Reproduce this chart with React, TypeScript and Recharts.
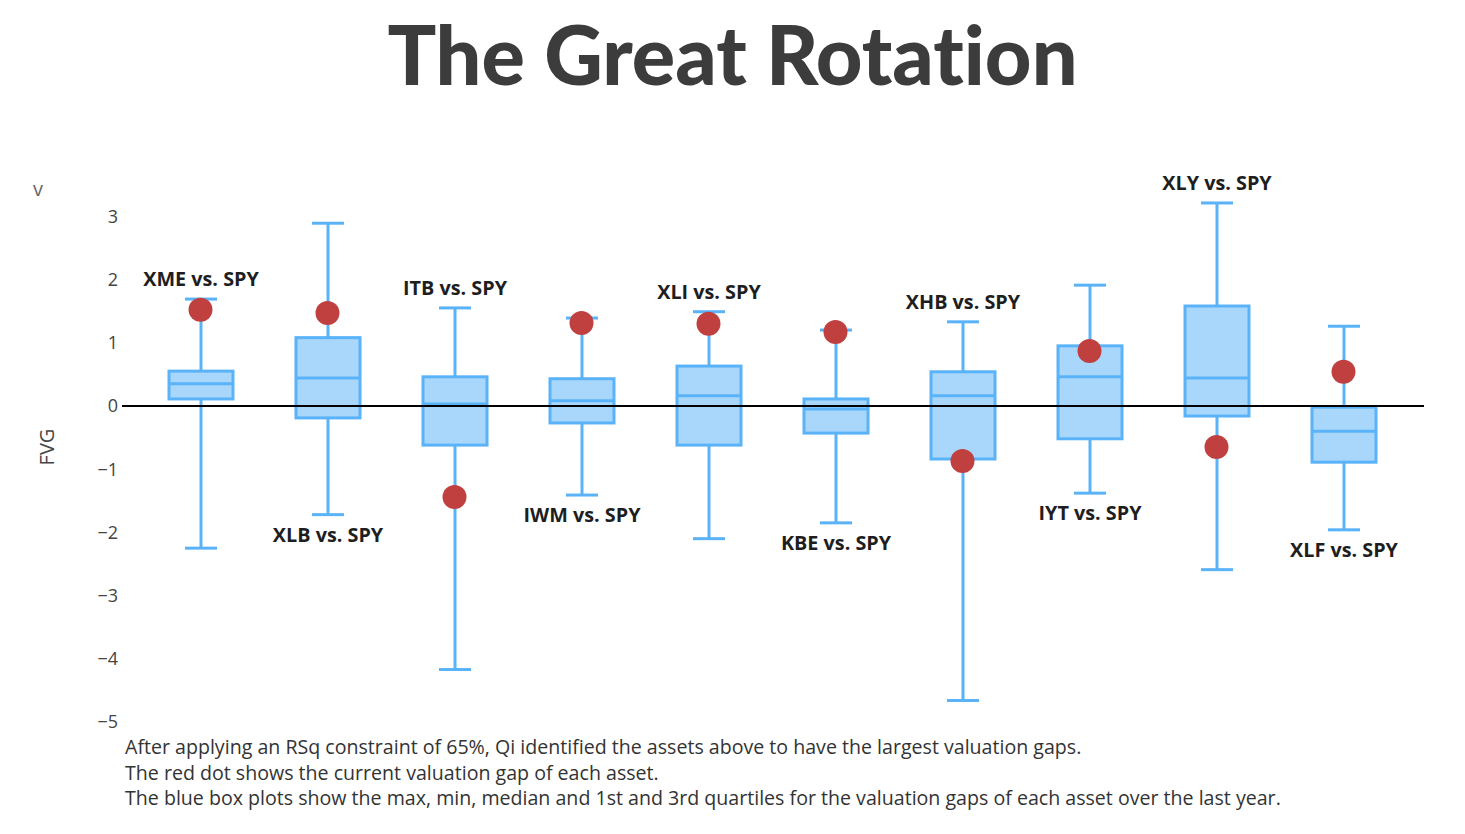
import React from "react";
import {
  ComposedChart,
  Bar,
  Scatter,
  XAxis,
  YAxis,
  ReferenceLine,
} from "recharts";

const categories: string[] = [
  "XME vs. SPY",
  "XLB vs. SPY",
  "ITB vs. SPY",
  "IWM vs. SPY",
  "XLI vs. SPY",
  "KBE vs. SPY",
  "XHB vs. SPY",
  "IYT vs. SPY",
  "XLY vs. SPY",
  "XLF vs. SPY",
];

const maxVals: number[] = [1.69, 2.89, 1.55, 1.39, 1.49, 1.2, 1.33, 1.91, 3.21, 1.26];
const q3Vals: number[] = [0.55, 1.08, 0.46, 0.43, 0.63, 0.11, 0.54, 0.95, 1.58, -0.02];
const medianVals: number[] = [0.35, 0.44, 0.03, 0.08, 0.16, -0.05, 0.16, 0.46, 0.44, -0.4];
const q1Vals: number[] = [0.11, -0.19, -0.62, -0.27, -0.62, -0.43, -0.84, -0.52, -0.16, -0.89];
const minVals: number[] = [-2.25, -1.72, -4.17, -1.41, -2.1, -1.85, -4.66, -1.38, -2.59, -1.96];
const currentVals: number[] = [1.52, 1.47, -1.44, 1.31, 1.3, 1.17, -0.87, 0.87, -0.65, 0.54];

const yTicks: number[] = [-5, -4, -3, -2, -1, 0, 1, 2, 3];

const notes: string[] = [
  "After applying an RSq constraint of 65%, Qi identified the assets above to have the largest valuation gaps.",
  "The red dot shows the current valuation gap of each asset.",
  "The blue box plots show the max, min, median and 1st and 3rd quartiles for the valuation gaps of each asset over the last year.",
];

const data = categories.map((name, i) => ({
  name,
  range: [minVals[i], maxVals[i]],
  max: maxVals[i],
  q3: q3Vals[i],
  median: medianVals[i],
  q1: q1Vals[i],
  min: minVals[i],
  current: currentVals[i],
}));

const BOX_STROKE = "#5ab3f8";
const BOX_FILL = "#a9d7fc";
const DOT = "#c0403f";

const BoxShape = (props: any) => {
  const { x, y, width, height, payload, index } = props;
  const { max, min, q1, q3, median, name } = payload;
  // map values to pixels using the bar's own [min, max] extent
  const toY = (v: number) => y + ((max - v) / (max - min)) * height;
  const cx = x + width / 2;
  const capHalf = 16;
  const top = toY(max);
  const bottom = toY(min);
  const labelAbove = index % 2 === 0;
  return (
    <g>
      <line x1={cx} x2={cx} y1={top} y2={bottom} stroke={BOX_STROKE} strokeWidth={3} />
      <line x1={cx - capHalf} x2={cx + capHalf} y1={top} y2={top} stroke={BOX_STROKE} strokeWidth={3} />
      <line x1={cx - capHalf} x2={cx + capHalf} y1={bottom} y2={bottom} stroke={BOX_STROKE} strokeWidth={3} />
      <rect
        x={x}
        y={toY(q3)}
        width={width}
        height={toY(q1) - toY(q3)}
        fill={BOX_FILL}
        stroke={BOX_STROKE}
        strokeWidth={3}
      />
      <line x1={x} x2={x + width} y1={toY(median)} y2={toY(median)} stroke={BOX_STROKE} strokeWidth={3} />
      <text
        x={cx}
        y={labelAbove ? top - 13 : bottom + 27}
        textAnchor="middle"
        fontFamily="Open Sans"
        fontWeight={700}
        fontSize={19.8}
        fill="#1e1e1e"
      >
        {name}
      </text>
    </g>
  );
};

const Dot = (props: any) => {
  const { cx, cy } = props;
  return <circle cx={cx} cy={cy} r={12} fill={DOT} />;
};

export default function App() {
  return (
    <div
      style={{
        position: "absolute",
        left: 0,
        top: 0,
        width: 1465,
        height: 834,
        background: "#fff",
        fontFamily: "Open Sans",
      }}
    >
      <div
        style={{
          position: "absolute",
          left: 0,
          top: 4,
          width: 1465,
          textAlign: "center",
          fontFamily: "Lato",
          fontWeight: 900,
          fontSize: 81,
          lineHeight: "100px",
          color: "#3c3c3c",
          fontVariantLigatures: "none",
        }}
      >
        The Great Rotation
      </div>
      <div style={{ position: "absolute", left: 33, top: 175, fontSize: 20, color: "#666" }}>v</div>

      <ComposedChart
        width={1464}
        height={834}
        data={data}
        margin={{ top: 172, right: 40, bottom: 112, left: 42 }}
      >
        <ReferenceLine y={0} stroke="#000" strokeWidth={2} />
        <XAxis dataKey="name" hide padding={{ left: 15, right: 17 }} />
        <YAxis
          type="number"
          domain={[-5, 3.7]}
          ticks={yTicks}
          width={80}
          axisLine={false}
          tickLine={false}
          tickSize={4}
          tickMargin={0}
          tick={{ fontSize: 18, fill: "#444", fontFamily: "Open Sans" }}
          tickFormatter={(v: number) => String(v).replace("-", "\u2212")}
          label={{
            value: "FVG",
            angle: -90,
            position: "insideLeft",
            offset: 5,
            style: { fontSize: 20, fill: "#444", fontFamily: "Open Sans", textAnchor: "middle" },
          }}
        />
        <Bar dataKey="range" barSize={64} shape={BoxShape} isAnimationActive={false} />
        <Scatter dataKey="current" shape={Dot} isAnimationActive={false} />
      </ComposedChart>

      <div
        style={{
          position: "absolute",
          left: 125,
          top: 734,
          fontSize: 19.6,
          lineHeight: "25.5px",
          color: "#333",
        }}
      >
        {notes.map((n) => (
          <div key={n}>{n}</div>
        ))}
      </div>
    </div>
  );
}
